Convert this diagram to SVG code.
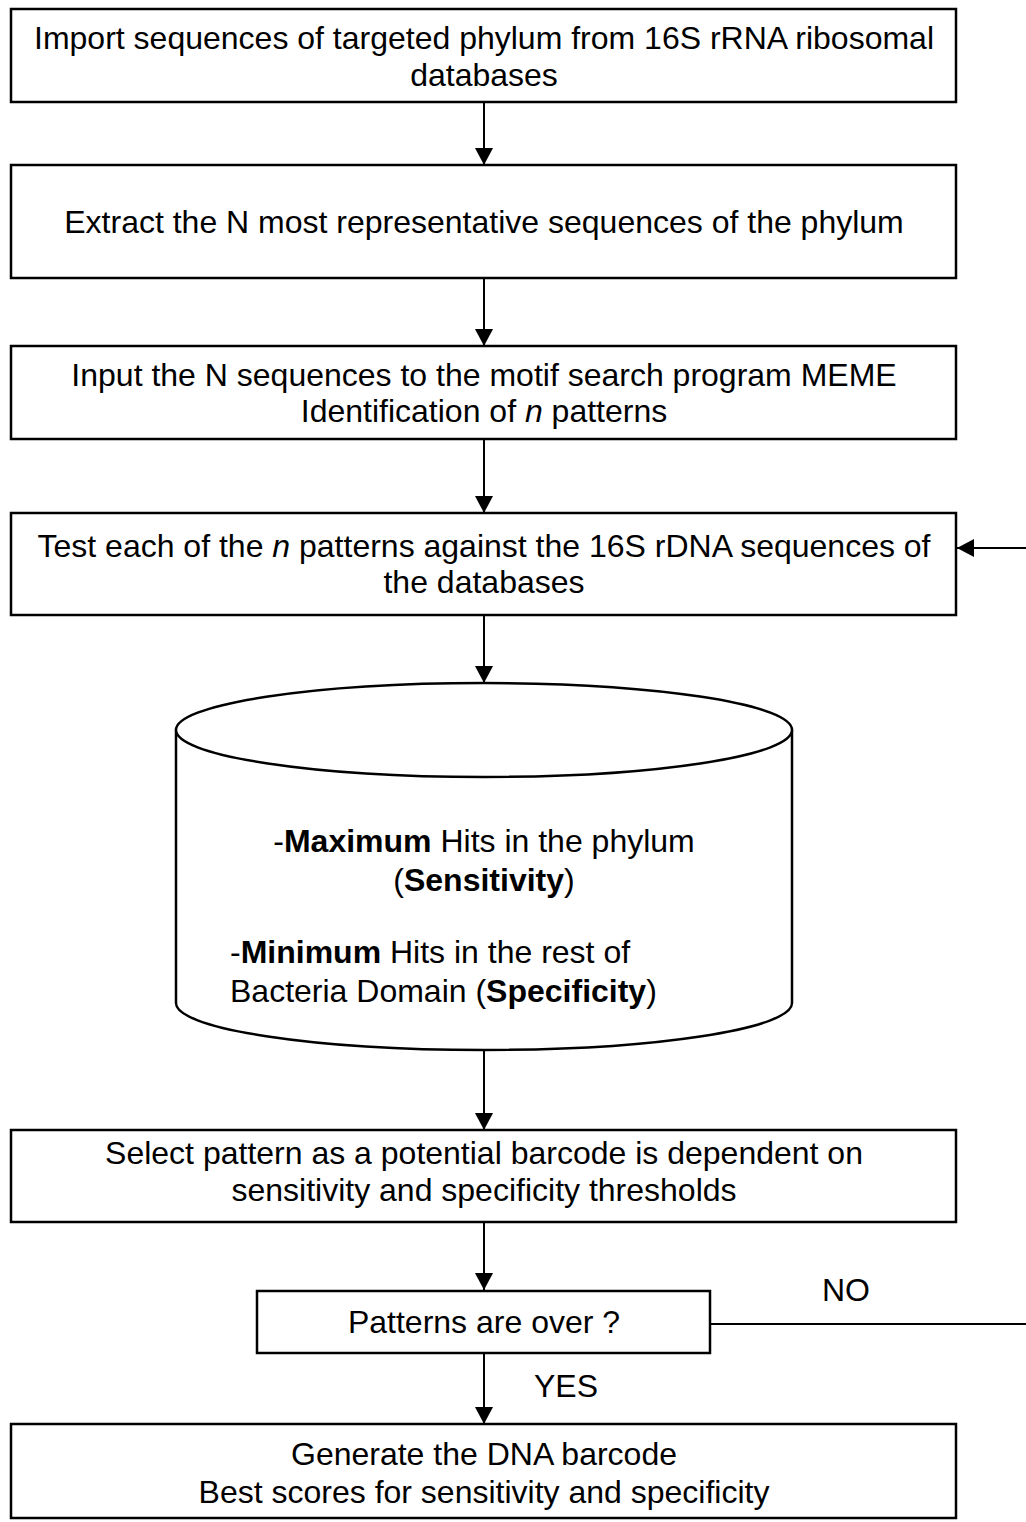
<svg xmlns="http://www.w3.org/2000/svg" width="1026" height="1522" viewBox="0 0 1026 1522">
  <style>
    .box { fill: #ffffff; stroke: #000000; stroke-width: 2.5; }
    .shape { fill: #ffffff; stroke: #000000; stroke-width: 2.5; }
    .link { fill: none; stroke: #000000; stroke-width: 2; }
    text { font-family: "Liberation Sans", Arial, Helvetica, sans-serif; font-size: 32px; fill: #000000; }
    .c { text-anchor: middle; }
    .b { font-weight: bold; }
    .i { font-style: italic; }
  </style>
  <defs>
    <marker id="arrow" viewBox="0 0 17 18" refX="17" refY="9" markerWidth="17" markerHeight="18" markerUnits="userSpaceOnUse" orient="auto">
      <path d="M0,0 L17,9 L0,18 Z" fill="#000000"/>
    </marker>
  </defs>

  <rect width="1026" height="1522" fill="#ffffff"/>

  <g id="connectors">
    <line class="link" x1="484" y1="102" x2="484" y2="165" marker-end="url(#arrow)"/>
    <line class="link" x1="484" y1="278" x2="484" y2="346" marker-end="url(#arrow)"/>
    <line class="link" x1="484" y1="439" x2="484" y2="513" marker-end="url(#arrow)"/>
    <line class="link" x1="484" y1="615" x2="484" y2="683" marker-end="url(#arrow)"/>
    <line class="link" x1="484" y1="1050" x2="484" y2="1130" marker-end="url(#arrow)"/>
    <line class="link" x1="484" y1="1222" x2="484" y2="1290" marker-end="url(#arrow)"/>
    <line class="link" x1="484" y1="1353" x2="484" y2="1424" marker-end="url(#arrow)"/>
    <!-- NO branch loops back to the pattern test -->
    <path class="link" d="M710,1324 L1040,1324 L1040,548 L957,548" marker-end="url(#arrow)"/>
    <text x="846" y="1301" class="c">NO</text>
    <text x="566" y="1397" class="c">YES</text>
  </g>

  <g id="import">
    <rect class="box" x="11" y="9" width="945" height="93"/>
    <text x="484" y="49" class="c">Import sequences of targeted phylum from 16S rRNA ribosomal</text>
    <text x="484" y="86" class="c">databases</text>
  </g>

  <g id="extract">
    <rect class="box" x="11" y="165" width="945" height="113"/>
    <text x="484" y="233" class="c">Extract the N most representative sequences of the phylum</text>
  </g>

  <g id="meme">
    <rect class="box" x="11" y="346" width="945" height="93"/>
    <text x="484" y="386" class="c">Input the N sequences to the motif search program MEME</text>
    <text x="484" y="422" class="c">Identification of <tspan class="i">n</tspan> patterns</text>
  </g>

  <g id="test">
    <rect class="box" x="11" y="513" width="945" height="102"/>
    <text x="484" y="557" class="c">Test each of the <tspan class="i">n</tspan> patterns against the 16S rDNA sequences of</text>
    <text x="484" y="593" class="c">the databases</text>
  </g>

  <g id="hits">
    <path class="shape" d="M176,730 L176,1003 A308,47 0 0 0 792,1003 L792,730"/>
    <ellipse class="shape" cx="484" cy="730" rx="308" ry="47"/>
    <text x="484" y="852" class="c">-<tspan class="b">Maximum</tspan> Hits in the phylum</text>
    <text x="484" y="891" class="c">(<tspan class="b">Sensitivity</tspan>)</text>
    <text x="230" y="963">-<tspan class="b">Minimum</tspan> Hits in the rest of</text>
    <text x="230" y="1002">Bacteria Domain (<tspan class="b">Specificity</tspan>)</text>
  </g>

  <g id="select">
    <rect class="box" x="11" y="1130" width="945" height="92"/>
    <text x="484" y="1164" class="c">Select pattern as a potential barcode is dependent on</text>
    <text x="484" y="1201" class="c">sensitivity and specificity thresholds</text>
  </g>

  <g id="over">
    <rect class="box" x="257" y="1291" width="453" height="62"/>
    <text x="484" y="1333" class="c">Patterns are over ?</text>
  </g>

  <g id="barcode">
    <rect class="box" x="11" y="1424" width="945" height="94"/>
    <text x="484" y="1465" class="c">Generate the DNA barcode</text>
    <text x="484" y="1503" class="c">Best scores for sensitivity and specificity</text>
  </g>
</svg>
